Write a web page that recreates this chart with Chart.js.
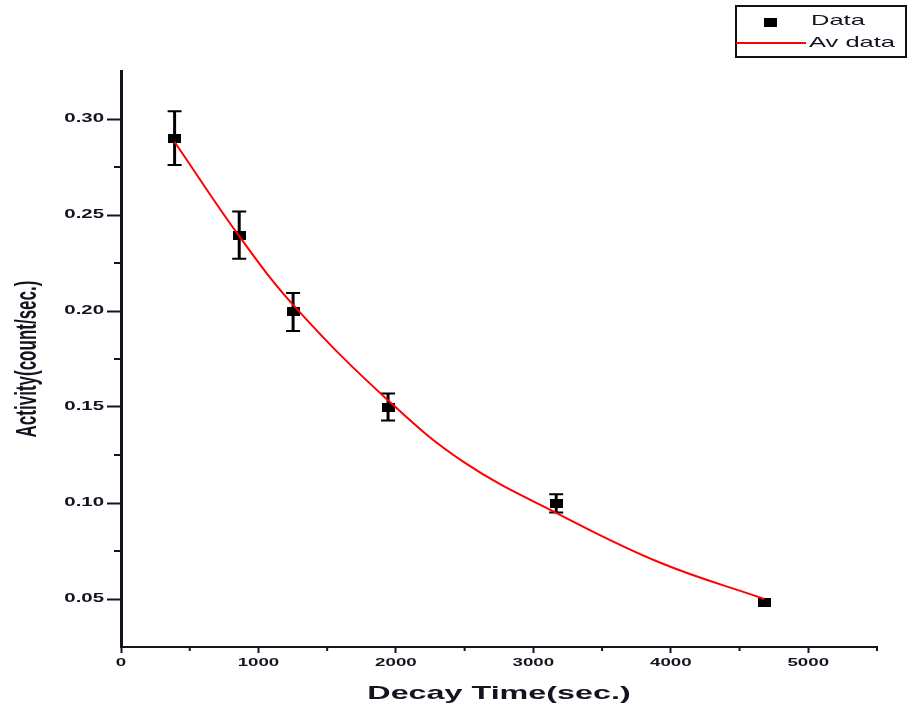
<!DOCTYPE html>
<html>
<head>
<meta charset="utf-8">
<script src="https://cdn.jsdelivr.net/npm/chart.js@4"></script>
<style>
  html, body { margin: 0; padding: 0; background: #fff; }
  #wrap { width: 909px; height: 708px; position: relative; }
</style>
</head>
<body>
<div id="wrap"><canvas id="decayChart"></canvas></div>
<script>
    // Measured points (with error bars)
    const decayTime = [390, 860, 1252, 1943, 3166, 4680];
    const activity = [0.290, 0.2395, 0.1995, 0.150, 0.0998, 0.048];
    const activityErr = [0.014, 0.0123, 0.0099, 0.007, 0.0047, 0];

    // Fit curve
    const fitTime = [390, 880, 1280, 1950, 2500, 3190, 3920, 4680];
    const fitActivity = [0.288, 0.237, 0.201, 0.153, 0.121, 0.094, 0.069, 0.050];

    // Axis ticks
    const xMajor = [0, 1000, 2000, 3000, 4000, 5000];
    const xMinor = [500, 1500, 2500, 3500, 4500, 5500];
    const yMajor = [0.05, 0.10, 0.15, 0.20, 0.25, 0.30];
    const yMinor = [0.075, 0.125, 0.175, 0.225, 0.275];

    const ink = '#141420';
    const stretch = 1.7; // the original picture is stretched sideways

    const ebrwCanvas = document.getElementById('decayChart');
    const ctx = ebrwCanvas.getContext('2d');

    // widen all text horizontally around its anchor point
    const rawFillText = ctx.fillText.bind(ctx);
    ctx.fillText = function (text, x, y, maxWidth) {
      const m = ctx.getTransform();
      const p = m.transformPoint(new DOMPoint(x, y));
      ctx.save();
      ctx.setTransform(new DOMMatrix().translate(p.x, p.y).scale(stretch, 1).translate(-p.x, -p.y).multiply(m));
      if (maxWidth === undefined) rawFillText(text, x, y);
      else rawFillText(text, x, y, maxWidth);
      ctx.restore();
    };

    // wide black rectangle marker
    const marker = document.createElement('canvas');
    marker.width = 13;
    marker.height = 9;
    const mctx = marker.getContext('2d');
    mctx.fillStyle = '#000';
    mctx.fillRect(0, 0, 13, 9);

    const errorBars = {
      id: 'errorBars',
      beforeDatasetsDraw(chart) {
        const c = chart.ctx, xs = chart.scales.x, ys = chart.scales.y;
        c.save();
        c.strokeStyle = '#000';
        decayTime.forEach((t, i) => {
          const e = activityErr[i];
          if (!e) return;
          const px = xs.getPixelForValue(t);
          const top = ys.getPixelForValue(activity[i] + e);
          const bot = ys.getPixelForValue(activity[i] - e);
          c.lineWidth = 3;
          c.beginPath(); c.moveTo(px, top); c.lineTo(px, bot); c.stroke();
          c.lineWidth = 2;
          c.beginPath();
          c.moveTo(px - 7, top); c.lineTo(px + 7, top);
          c.moveTo(px - 7, bot); c.lineTo(px + 7, bot);
          c.stroke();
        });
        c.restore();
      }
    };

    const minorTicks = {
      id: 'minorTicks',
      afterDraw(chart) {
        const c = chart.ctx, xs = chart.scales.x, ys = chart.scales.y;
        const a = chart.chartArea;
        c.save();
        c.strokeStyle = ink;
        c.lineWidth = 2;
        c.beginPath();
        xMinor.forEach(v => {
          const px = xs.getPixelForValue(v);
          c.moveTo(px, a.bottom); c.lineTo(px, a.bottom + 4);
        });
        yMinor.forEach(v => {
          const py = ys.getPixelForValue(v);
          c.moveTo(a.left, py); c.lineTo(a.left - 7, py);
        });
        c.stroke();
        c.restore();
      }
    };

    const boxLegend = {
      id: 'boxLegend',
      afterDraw(chart) {
        const c = chart.ctx;
        c.save();
        c.strokeStyle = '#111';
        c.lineWidth = 2;
        c.strokeRect(736, 6, 170, 51);
        c.drawImage(marker, 764, 18);
        c.strokeStyle = '#ff0000';
        c.lineWidth = 2;
        c.beginPath(); c.moveTo(736, 43); c.lineTo(806, 43); c.stroke();
        c.fillStyle = ink;
        c.font = '15px "Liberation Sans", Arial, sans-serif';
        c.textAlign = 'left';
        c.textBaseline = 'middle';
        c.fillText('Data', 811, 21);
        c.fillText('Av data', 809, 43);
        c.restore();
      }
    };

    new Chart(ebrwCanvas, {
      type: 'scatter',
      data: {
        datasets: [
          {
            label: 'Av data',
            type: 'line',
            data: fitTime.map((t, i) => ({ x: t, y: fitActivity[i] })),
            borderColor: '#ff0000',
            borderWidth: 2,
            pointRadius: 0,
            fill: false,
            tension: 0.4,
            order: 0
          },
          {
            label: 'Data',
            data: decayTime.map((t, i) => ({ x: t, y: activity[i] })),
            pointStyle: marker,
            pointRadius: 6,
            backgroundColor: '#000',
            borderColor: '#000',
            order: 1
          }
        ]
      },
      options: {
        responsive: true,
        maintainAspectRatio: false,
        animation: false,
        events: [],
        layout: { padding: { top: 71, right: 32, left: 0, bottom: 0 } },
        plugins: { legend: { display: false }, tooltip: { enabled: false } },
        scales: {
          x: {
            type: 'linear',
            min: 0,
            max: 5500,
            afterFit: s => { s.height = 61; },
            afterBuildTicks: s => { s.ticks = xMajor.map(v => ({ value: v })); },
            border: { color: ink, width: 2 },
            grid: { drawOnChartArea: false, tickLength: 6, tickWidth: 2, tickColor: ink },
            ticks: {
              padding: 3,
              color: ink,
              maxRotation: 0,
              autoSkip: false,
              callback: v => String(v),
              font: { family: '"Liberation Sans", Arial, sans-serif', size: 11, weight: 'bold' }
            },
            title: {
              display: true,
              text: 'Decay Time(sec.)',
              color: ink,
              padding: { top: 0, bottom: 3 },
              font: { family: '"Liberation Sans", Arial, sans-serif', size: 19, weight: 'bold' }
            }
          },
          y: {
            type: 'linear',
            min: 0.025,
            max: 0.325,
            afterFit: s => { s.width = 121; },
            afterBuildTicks: s => { s.ticks = yMajor.map(v => ({ value: v })); },
            border: { color: ink, width: 3 },
            grid: { drawOnChartArea: false, tickLength: 14, tickWidth: 2, tickColor: ink },
            ticks: {
              padding: 3,
              color: ink,
              autoSkip: false,
              callback: v => v.toFixed(2),
              font: { family: '"Liberation Sans", Arial, sans-serif', size: 12, weight: 'bold' }
            },
            title: {
              display: true,
              text: 'Activity(count/sec.)',
              color: ink,
              padding: { top: 18, bottom: 0 },
              font: { family: '"Liberation Sans", Arial, sans-serif', size: 17, weight: 'bold' }
            }
          }
        }
      },
      plugins: [errorBars, minorTicks, boxLegend]
    });
</script>
</body>
</html>
